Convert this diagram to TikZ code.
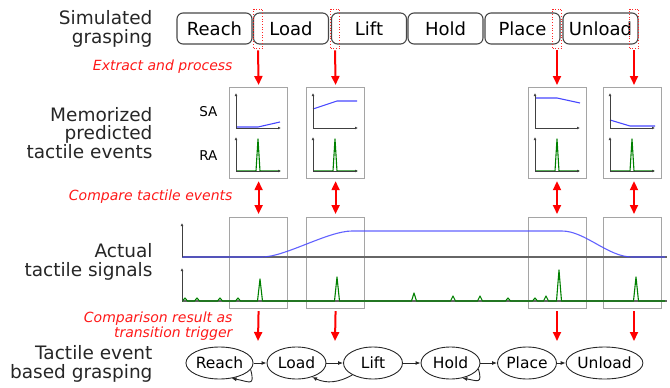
\documentclass[tikz,border=0pt]{standalone}
\usepackage{fontspec}
\setmainfont{DejaVu Sans}
\usetikzlibrary{arrows.meta,shapes.geometric}
\definecolor{sigblue}{RGB}{70,70,255}
\definecolor{siggreen}{RGB}{0,128,0}
\definecolor{boxgray}{RGB}{165,165,165}
\definecolor{txtred}{RGB}{255,25,25}

\begin{document}
\begin{tikzpicture}[x=1pt,y=-1pt,
  phase/.style={draw=black!72, line width=1.1pt, rounded corners=6pt,
    minimum width=75pt, minimum height=31pt, inner sep=0pt,
    font=\fontsize{18}{18}\selectfont},
  cut/.style={draw=red!85, dotted, line width=0.7pt,
    minimum width=9pt, minimum height=39pt, inner sep=0pt},
  gbox/.style={draw=boxgray, line width=1.2pt, minimum width=58pt,
    minimum height=91pt, inner sep=0pt, anchor=north west},
  rowlabel/.style={anchor=east, align=right, text=black!85,
    font=\fontsize{18.5}{18.5}\selectfont},
  redlabel/.style={anchor=east, align=right, text=txtred,
    font=\fontsize{14}{15.5}\selectfont\itshape},
  plotlabel/.style={anchor=east, font=\fontsize{13.5}{13.5}\selectfont},
  redarrow/.style={draw=red, line width=2pt, -{Triangle[length=9pt,width=8pt]}},
  redboth/.style={draw=red, line width=2pt,
    {Triangle[length=9pt,width=8pt]}-{Triangle[length=9pt,width=8pt]}},
  ax/.style={draw=black!75, line width=1pt, -{Latex[length=3pt,width=2.8pt]}},
  baseaxis/.style={draw=black!60, line width=1.3pt},
  state/.style={draw=black!85, ellipse, line width=0.9pt, minimum width=59pt,
    minimum height=32pt, inner sep=0pt, font=\fontsize{15.5}{15.5}\selectfont},
  trans/.style={draw=black!85, line width=0.9pt, -{Latex[length=5pt,width=4pt]}},
  sa/.style={draw=sigblue, line width=1.1pt},
  ra/.style={draw=siggreen, line width=1.1pt, line join=round},
  memaxes/.pic={
    \draw[ra] (7,84) -- (27,84) -- (29,52) -- (31,84) -- (51,84);
    \draw[ax] (7,41) -- (7,6);
    \draw[ax] (7,41) -- (52,41);
    \draw[ax] (7,84) -- (7,50);
    \draw[ax] (7,84) -- (52,84);
  }]
\useasboundingbox (0,0) rectangle (670,388);

% row labels
\node[rowlabel] (lsim) at (156,29) {Simulated\\grasping};
\node[rowlabel] (lmem) at (156,133) {Memorized\\predicted\\tactile events};
\node[rowlabel] (lact) at (156,262) {Actual\\tactile signals};
\node[rowlabel] (lteb) at (156,364) {Tactile event\\based grasping};

% simulated grasping phases
\node[phase] (p1) at (214.5,28.5) {Reach};
\node[phase] (p2) at (291,28.5) {Load};
\node[phase] (p3) at (369,28.5) {Lift};
\node[phase] (p4) at (445.5,28.5) {Hold};
\node[phase] (p5) at (522.5,28.5) {Place};
\node[phase] (p6) at (600.5,28.5) {Unload};

% extraction windows at phase transitions
\node[cut] (d1) at (258,28.5) {};
\node[cut] (d2) at (335,28.5) {};
\node[cut] (d3) at (557,28.5) {};
\node[cut] (d4) at (634,28.5) {};

\node[redlabel] (rl1) at (236,67) {Extract and process};
\node[redlabel] (rl2) at (236,197) {Compare tactile events};
\node[redlabel] (rl3) at (236,326) {Comparison result as\\transition trigger};

% memorized event windows
\node[gbox] (m1) at (229,87) {};
\node[gbox] (m2) at (306,87) {};
\node[gbox] (m3) at (528,87) {};
\node[gbox] (m4) at (603,87) {};
\node[plotlabel] (lsa) at (221,112) {SA};
\node[plotlabel] (lra) at (221,156) {RA};

\begin{scope}[shift={(229,87)}]
  \draw[sa] (7,40) -- (29,40) -- (51,35);
  \pic {memaxes};
\end{scope}
\begin{scope}[shift={(306,87)}]
  \draw[sa] (7,22) -- (31,14) -- (51,14);
  \pic {memaxes};
\end{scope}
\begin{scope}[shift={(528,87)}]
  \draw[sa] (7,11) -- (29,11) -- (52,16);
  \pic {memaxes};
\end{scope}
\begin{scope}[shift={(603,87)}]
  \draw[sa] (7,33) -- (27,39) -- (52,39);
  \pic {memaxes};
\end{scope}

% actual tactile signals
\node[gbox] (a1) at (229,217) {};
\node[gbox] (a2) at (306,217) {};
\node[gbox] (a3) at (528,217) {};
\node[gbox] (a4) at (603,217) {};

\draw[baseaxis] (182,257) -- (667,257);
\draw[baseaxis] (182,301) -- (667,301);
\draw[sa, opacity=0.85] (182,257) -- (262,257)
  .. controls (285,257) and (328,231) .. (352,231) -- (562,231)
  .. controls (585,231) and (608,257) .. (632,257) -- (665,257);
\draw[ra] (182,301)
  \foreach \px/\ph in {185/3,197/3,220/3,238/3,260/22,337/24,414/8,453/5,480/5,508/3,535/3,546/5,559/31,636/24}{
    -- ({\px-2.5},301) -- (\px,{301-\ph}) -- ({\px+2.5},301)
  } -- (665,301);
\draw[ax] (182,257) -- (182,223);
\draw[ax] (182,301) -- (182,268);

% transition arrows
\draw[redarrow, shorten <=2pt, shorten >=2pt] (d1.south) -- (m1.north);
\draw[redarrow, shorten <=2pt, shorten >=2pt] (d2.south) -- (m2.north);
\draw[redarrow, shorten <=2pt, shorten >=2pt] (d3.south) -- (d3.south |- m3.north);
\draw[redarrow, shorten <=2pt, shorten >=2pt] (d4.south) -- (d4.south |- m4.north);

\draw[redboth, shorten <=2pt, shorten >=3pt] (m1.south) -- (a1.north);
\draw[redboth, shorten <=2pt, shorten >=3pt] (m2.south) -- (a2.north);
\draw[redboth, shorten <=2pt, shorten >=3pt] (d3.south |- m3.south) -- (d3.south |- a3.north);
\draw[redboth, shorten <=2pt, shorten >=3pt] (d4.south |- m4.south) -- (d4.south |- a4.north);

\coordinate (t1) at (258,341);
\coordinate (t2) at (335,341);
\coordinate (t3) at (557,341);
\coordinate (t4) at (634,341);
\draw[redarrow, shorten <=2pt] (a1.south) -- (t1);
\draw[redarrow, shorten <=2pt] (a2.south) -- (t2);
\draw[redarrow, shorten <=2pt] (t3 |- a3.south) -- (t3);
\draw[redarrow, shorten <=2pt] (t4 |- a4.south) -- (t4);

% tactile event based state machine
\node[state] (s1) at (219.5,363) {Reach};
\node[state] (s2) at (296.5,363) {Load};
\node[state] (s3) at (373,363) {Lift};
\node[state] (s4) at (450.5,363) {Hold};
\node[state] (s5) at (527,363) {Place};
\node[state] (s6) at (604.5,363) {Unload};

\draw[trans] (s1) -- (s2);
\draw[trans] (s2) -- (s3);
\draw[trans] (s3) -- (s4);
\draw[trans] (s4) -- (s5);
\draw[trans] (s5) -- (s6);
\draw[trans] (s1.-12) to[out=-75, in=-10, looseness=2.2] (s1.-52);
\draw[trans] (s4.-12) to[out=-75, in=-10, looseness=2.2] (s4.-52);
\draw[trans] (s3.-150) to[out=-150, in=-25] (s2.-42);
\end{tikzpicture}
\end{document}
